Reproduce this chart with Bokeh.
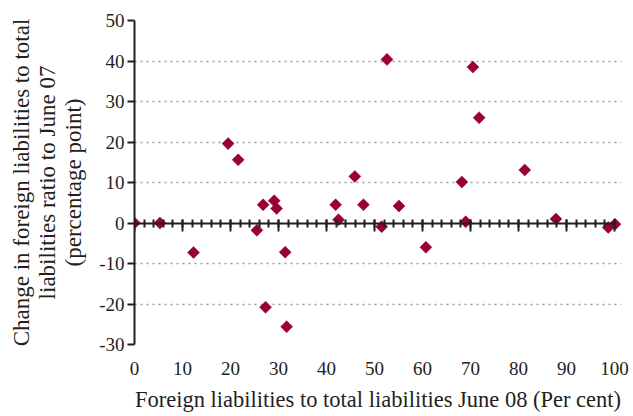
from bokeh.plotting import figure
from bokeh.models import Range1d, LinearAxis, FixedTicker, SingleIntervalTicker, CustomJSTickFormatter
from bokeh.embed import file_html
from bokeh.resources import INLINE
import numpy as np

# Foreign liabilities to total liabilities June 08 (per cent)
share_jun08 = [0.0, 5.3, 12.3, 19.5, 21.6, 25.5, 26.8, 27.3, 29.1, 29.6, 31.4, 31.7,
               41.9, 42.5, 45.9, 47.7, 51.5, 52.6, 55.1, 60.7, 68.2, 69.0, 70.5,
               71.8, 81.3, 87.8, 98.7, 100.1]
# Change in ratio to June 07 (percentage points)
change_pp = [0.0, 0.0, -7.3, 19.6, 15.6, -1.8, 4.5, -20.8, 5.5, 3.6, -7.2, -25.6,
             4.5, 0.8, 11.5, 4.5, -0.9, 40.4, 4.2, -6.0, 10.1, 0.3, 38.5,
             26.0, 13.1, 1.0, -1.1, -0.3]

x_ticks = [0, 10, 20, 30, 40, 50, 60, 70, 80, 90, 100]
y_ticks = [-30, -20, -10, 0, 10, 20, 30, 40, 50]

FONT = "Liberation Serif"
INK = "#231f20"
RED = "#990033"
fmt = CustomJSTickFormatter(code="return tick.toFixed(0);")

X0, X1 = 0, 487 / 4.8   # a little room on the right for the marker at 100

p = figure(width=633, height=416, output_backend="svg", toolbar_location=None,
           x_range=Range1d(X0, X1), y_range=Range1d(min(y_ticks), max(y_ticks)),
           x_axis_location=None, y_axis_location=None,
           min_border_left=134, min_border_right=12, min_border_top=20, min_border_bottom=72)
p.outline_line_color = None
p.background_fill_color = "white"
p.border_fill_color = "white"

# y axis
yax = LinearAxis(ticker=FixedTicker(ticks=y_ticks), formatter=fmt)
yax.axis_line_color = INK
yax.axis_line_width = 2
yax.major_tick_line_color = INK
yax.major_tick_line_width = 2
yax.major_tick_in = 0
yax.major_tick_out = 7
yax.minor_tick_line_color = None
yax.minor_tick_in = 0
yax.minor_tick_out = 0
yax.major_label_text_font = FONT
yax.major_label_text_font_size = "19px"
yax.major_label_text_color = INK
yax.major_label_standoff = 3
yax.axis_label = "Change in foreign liabilities to total\nliabilities ratio to June 07\n(percentage point)"
yax.axis_label_text_font = FONT
yax.axis_label_text_font_size = "23px"
yax.axis_label_text_font_style = "normal"
yax.axis_label_text_color = INK
yax.axis_label_text_line_height = 1.05
yax.axis_label_standoff = 10
p.add_layout(yax, "left")

# x axis line at y = 0 with crossing ticks
x0ax = LinearAxis(ticker=SingleIntervalTicker(interval=10, num_minor_ticks=5), fixed_location=0,
                  bounds=(0, 100))
x0ax.axis_line_color = INK
x0ax.axis_line_width = 2
x0ax.major_tick_line_color = INK
x0ax.major_tick_line_width = 2
x0ax.major_tick_in = 8
x0ax.major_tick_out = 4
x0ax.minor_tick_line_color = INK
x0ax.minor_tick_line_width = 2
x0ax.minor_tick_in = 4
x0ax.minor_tick_out = 4
x0ax.major_label_text_font_size = "0px"
x0ax.major_label_text_alpha = 0
p.add_layout(x0ax, "above")

# x labels at the bottom
xlab = LinearAxis(ticker=FixedTicker(ticks=x_ticks), formatter=fmt)
xlab.axis_line_color = None
xlab.major_tick_line_color = None
xlab.minor_tick_line_color = None
xlab.major_tick_in = 0
xlab.major_tick_out = 0
xlab.major_label_text_font = FONT
xlab.major_label_text_font_size = "19px"
xlab.major_label_text_color = INK
xlab.major_label_standoff = 17
xlab.axis_label = "Foreign liabilities to total liabilities June 08 (Per cent)"
xlab.axis_label_text_font = FONT
xlab.axis_label_text_font_size = "22.5px"
xlab.axis_label_text_font_style = "normal"
xlab.axis_label_text_color = INK
xlab.axis_label_standoff = 9
p.add_layout(xlab, "below")

p.ygrid.ticker = FixedTicker(ticks=[t for t in y_ticks if t != 0])
p.ygrid.bounds = (0, 100)
p.ygrid.grid_line_color = "#9a9a9a"
p.ygrid.grid_line_dash = "2 4"
p.ygrid.grid_line_width = 1.5
p.xgrid.grid_line_color = None

p.scatter(share_jun08, change_pp, marker="square", angle=np.pi / 4, size=8.5,
          fill_color=RED, line_color=RED, line_width=0.5)

open("out.html", "w").write(file_html(p, INLINE))
